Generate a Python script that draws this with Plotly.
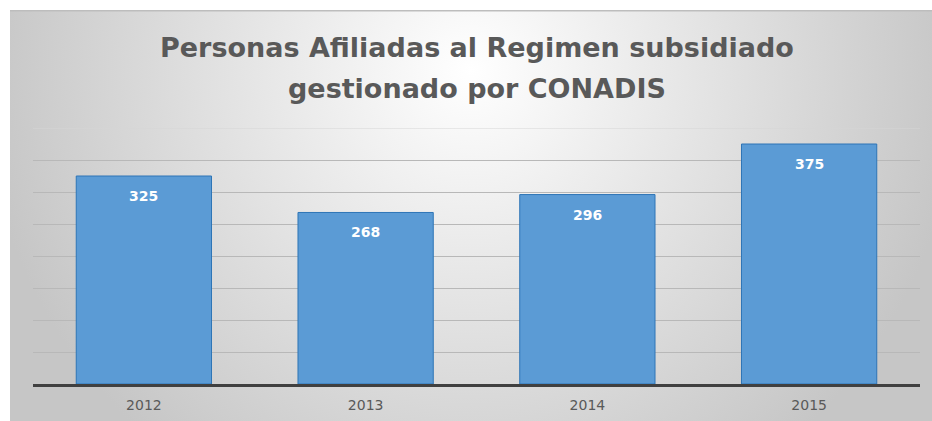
import base64
import plotly.graph_objects as go

years = ["2012", "2013", "2014", "2015"]
afiliados = [325, 268, 296, 375]
title_lines = ["Personas Afiliadas al Regimen subsidiado", "gestionado por CONADIS"]
y_max = 400

W, H = 932, 421
ML, MR, MT, MB = 33, 12, 128, 37
PW = W - ML - MR
PH = H - MT - MB

svg = (
    '<svg xmlns="http://www.w3.org/2000/svg" width="922" height="411" viewBox="0 0 922 411" preserveAspectRatio="none">'
    '<defs><radialGradient id="g" gradientUnits="userSpaceOnUse" cx="461" cy="60" r="490">'
    '<stop offset="0" stop-color="#ffffff"/><stop offset="1" stop-color="#c6c6c6"/>'
    '</radialGradient></defs>'
    '<rect x="0" y="0" width="922" height="411" fill="url(#g)"/>'
    '<rect x="0" y="0" width="922" height="1.5" fill="#bdbdbd"/>'
    '</svg>'
)
src = "data:image/svg+xml;base64," + base64.b64encode(svg.encode()).decode()

fig = go.Figure()
fig.add_trace(go.Bar(
    x=years, y=afiliados,
    marker=dict(color="#5b9bd5", line=dict(color="#2e75b6", width=1)),
    hoverinfo="x+y",
))

label_annotations = [
    dict(x=i, y=v, xref="x", yref="y", text="<b>%d</b>" % v, showarrow=False,
         yshift=-20, yanchor="middle",
         font=dict(family="DejaVu Sans", size=14, color="white"))
    for i, v in enumerate(afiliados)
]

title_annotations = [
    dict(text="<b>%s</b>" % title_lines[0], xref="paper", yref="paper",
         x=0.5, y=(H - MB - 47) / PH, yanchor="middle", showarrow=False,
         font=dict(family="DejaVu Sans", size=27, color="#595959")),
    dict(text="<b>%s</b>" % title_lines[1], xref="paper", yref="paper",
         x=0.5, y=(H - MB - 88) / PH, yanchor="middle", showarrow=False,
         font=dict(family="DejaVu Sans", size=27, color="#595959")),
]

fig.update_layout(
    width=W, height=H,
    margin=dict(l=ML, r=MR, t=MT, b=MB),
    paper_bgcolor="white", plot_bgcolor="rgba(0,0,0,0)",
    bargap=0.39, showlegend=False,
    images=[dict(source=src, xref="paper", yref="paper",
                 x=(10 - ML) / PW, y=(H - MB - 10) / PH,
                 sizex=(W - 10) / PW, sizey=(H - 10) / PH,
                 xanchor="left", yanchor="top", sizing="stretch", layer="below")],
    shapes=[dict(type="line", xref="paper", yref="y", x0=0, x1=1, y0=y_max, y1=y_max,
                 line=dict(color="#d6d6d6", width=1), layer="below")],
    xaxis=dict(type="category", showline=True, linecolor="#404040", linewidth=2.5,
               ticks="", ticklabelstandoff=6, automargin=False,
               tickfont=dict(family="DejaVu Sans", size=14, color="#595959"),
               showgrid=False),
    yaxis=dict(range=[0, y_max], dtick=50, showgrid=True, gridcolor="#b8b8b8",
               gridwidth=1, showticklabels=False, zeroline=False, automargin=False),
    annotations=title_annotations + label_annotations,
)

fig.write_html("out.html", config={"displayModeBar": False},
               post_script="document.body.style.margin='0';")
